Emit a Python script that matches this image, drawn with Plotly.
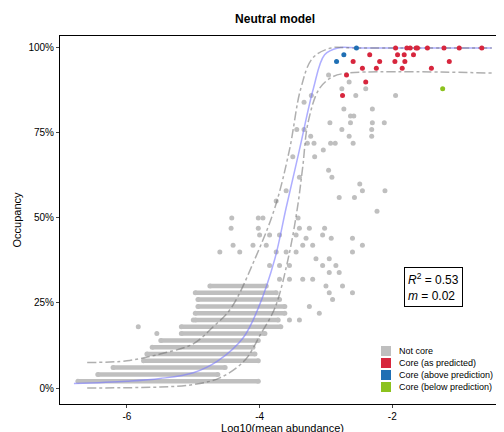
import plotly.graph_objects as go

# Dense rows of "not core" taxa: occupancy (%) and x extent of dense band
row_occ = [2, 4, 6, 8, 10, 12, 14, 16, 18, 20, 22, 24, 26, 28, 30]
row_xmin = [-6.74, -6.44, -6.21, -5.75, -5.70, -5.62, -5.49, -5.18, -5.18, -4.97, -4.97, -4.93, -4.93, -4.97, -4.75]
row_xmax = [-4.02, -4.63, -4.52, -4.02, -4.07, -4.10, -4.02, -3.92, -3.68, -3.72, -3.62, -3.62, -3.70, -3.75, -3.90]
# Sparse grey points
grey_x = [-3.4, -3.55, -3.1, -3.25, -2.9, -2.95, -3.7, -3.55, -3.35, -3.2, -3.0, -2.75, -2.6, -2.95, -2.8,
          -3.85, -3.7, -3.55, -3.05, -2.85, -2.95, -3.6, -3.45, -3.15, -2.6, -2.45, -2.6, -2.92,
          -5.83, -5.55, -5.0, -4.42, -4.02, -3.95, -3.42, -4.43, -4.02, -3.40, -3.25, -3.02,
          -4.0, -3.85, -3.7, -3.45, -3.3, -3.05, -4.4, -4.1, -3.9, -3.35, -3.2, -4.6, -4.3, -3.75,
          -2.23, -2.80, -2.57, -2.11, -2.45, -2.49, -2.91, -2.96, -3.17, -3.04, -2.93, -2.86, -2.59,
          -2.65, -2.31, -2.76, -2.31, -2.94, -2.63, -2.30, -2.12, -2.63, -2.58, -2.73, -2.30, -2.55,
          -1.95, -2.40, -2.76, -2.65, -2.96, -3.22, -3.33, -3.44, -3.33, -3.23, -3.28, -3.18, -3.5,
          -3.4, -3.6, -3.75]
grey_y = [20, 20, 22, 24, 26, 28, 32, 32, 32, 32, 30, 30, 28, 34, 34,
          36, 36, 36, 36, 36, 38, 40, 40, 38, 40, 42, 44, 44,
          18, 16, 20, 50, 50, 50, 50, 47, 47, 47, 47, 47,
          45, 45, 45, 45, 44, 45, 42, 42, 42, 42, 42, 40, 40, 40,
          52, 56, 56, 58, 58, 60, 62, 64, 68, 70, 72, 72, 72,
          74, 74, 76, 76, 78, 78, 78, 78, 80, 80, 82, 82, 86,
          86, 88, 88, 90, 92, 86, 84, 76, 76, 74, 72, 72, 68,
          62, 58, 55]
red_x = [-1.95, -1.78, -1.73, -1.64, -1.62, -1.47, -1.22, -0.99, -0.65,
         -2.34, -1.92, -1.82, -1.68, -2.59, -2.19, -1.96, -1.81, -1.14,
         -2.45, -2.24, -1.85, -1.41, -2.69, -2.40, -2.75]
red_y = [100] * 9 + [98] * 4 + [96] * 5 + [94] * 4 + [92, 90, 86]
blue_x = [-2.54, -2.73, -2.84]
blue_y = [100, 98, 96]
green_x = [-1.24]
green_y = [88]
# Neutral model fit and confidence bounds
fit_x = [-6.8, -6.0, -5.5, -5.0, -4.63, -4.25, -4.02, -3.77, -3.6, -3.4, -3.19, -3.02, -2.82, -2.5, -0.5]
fit_y = [1.3, 2, 2.8, 4.5, 8, 14.7, 23.5, 38, 53, 70, 88, 98, 100, 100, 100]
up_x = [-6.6, -6.0, -5.5, -5.0, -4.7, -4.43, -4.07, -3.77, -3.55, -3.38, -3.2, -2.92, -2.6, -0.5]
up_y = [7.5, 8, 10, 13, 18, 23.5, 38, 53, 70, 88, 97, 100, 100, 100]
lo_x = [-6.6, -5.5, -5.0, -4.6, -4.23, -3.98, -3.77, -3.57, -3.43, -3.35, -3.27, -3.1, -2.9, -2.67, -0.5]
lo_y = [0, 0.3, 1, 3, 8, 16, 23.5, 38, 53, 65, 78, 88, 91.5, 92.6, 92.6]
legend_names = ["Not core", "Core (as predicted)", "Core (above prediction)", "Core (below prediction)"]

GREY = "#bfbfbf"
COLORS = [GREY, "#d7263d", "#1f6fb4", "#8cc21e"]
fig = go.Figure()
for o, a, b in zip(row_occ, row_xmin, row_xmax):
    fig.add_trace(go.Scatter(x=[a, b], y=[o, o], mode="lines+markers",
                             line=dict(color=GREY, width=4.5), marker=dict(color=GREY, size=5),
                             showlegend=False, hoverinfo="skip"))
fig.add_trace(go.Scatter(x=grey_x, y=grey_y, mode="markers", marker=dict(color=GREY, size=5), showlegend=False))
fig.add_trace(go.Scatter(x=fit_x, y=fit_y, mode="lines", line=dict(color="rgba(120,120,255,0.6)", width=1.5, shape="spline"), showlegend=False))
for xs, ys in [(up_x, up_y), (lo_x, lo_y)]:
    fig.add_trace(go.Scatter(x=xs, y=ys, mode="lines", line=dict(color="rgba(110,110,110,0.55)", width=1.5, dash="dashdot", shape="spline"), showlegend=False))
fig.add_trace(go.Scatter(x=red_x, y=red_y, mode="markers", marker=dict(color=COLORS[1], size=5), showlegend=False))
fig.add_trace(go.Scatter(x=blue_x, y=blue_y, mode="markers", marker=dict(color=COLORS[2], size=5), showlegend=False))
fig.add_trace(go.Scatter(x=green_x, y=green_y, mode="markers", marker=dict(color=COLORS[3], size=5), showlegend=False))

# manual compact legend (paper coords)
W, H = 504, 432
L, R, T, B = 52, 7, 28, 36
pw, ph = W - L - R, H - T - B
shapes, annots = [], []
for i, (name, c) in enumerate(zip(legend_names, COLORS)):
    yc = 343 + 12 * i
    yp = (H - B - yc) / ph
    x0 = (373 - L) / pw
    x1 = (383 - L) / pw
    shapes.append(dict(type="rect", xref="paper", yref="paper", x0=x0, x1=x1, y0=yp - 5 / ph, y1=yp + 5 / ph,
                       fillcolor=c, line=dict(width=0)))
    annots.append(dict(x=(389 - L) / pw, y=yp, xref="paper", yref="paper", xanchor="left", yanchor="middle",
                       text=name, showarrow=False, font=dict(size=9)))
annots.append(dict(x=(455 - L) / pw, y=(H - B - 259) / ph, xref="paper", yref="paper", xanchor="right", yanchor="top", align="left",
                   text="<i>R</i><sup>2</sup> = 0.53<br><i>m</i> = 0.02", showarrow=False, font=dict(size=12),
                   bordercolor="black", borderwidth=1, borderpad=3, bgcolor="white"))

fig.update_layout(
    width=W, height=H, template="none", paper_bgcolor="white", plot_bgcolor="white",
    margin=dict(l=L, r=R, t=T, b=B, autoexpand=False), showlegend=False,
    font=dict(family="Liberation Sans, Arial", size=10, color="black"),
    title=dict(text="<b>Neutral model</b>", x=0.53, xanchor="center", y=0.985, yanchor="top", font=dict(size=12)),
    xaxis=dict(range=[-7.01, -0.3], tickvals=[-6, -4, -2], ticktext=["-6", "-4", "-2"], showgrid=False, zeroline=False,
               showline=True, mirror=True, linecolor="black", linewidth=1, ticks="outside", ticklen=3, automargin=False,
               title=dict(text="Log10(mean abundance)", standoff=2, font=dict(size=11))),
    yaxis=dict(range=[-4.7, 103.5], tickvals=[0, 25, 50, 75, 100], ticktext=["0%", "25%", "50%", "75%", "100%"], showgrid=False, zeroline=False,
               showline=True, mirror=True, linecolor="black", linewidth=1, ticks="outside", ticklen=3, automargin=False,
               title=dict(text="Occupancy", standoff=4, font=dict(size=11))),
    shapes=shapes, annotations=annots,
)
fig.write_html("out.html")
